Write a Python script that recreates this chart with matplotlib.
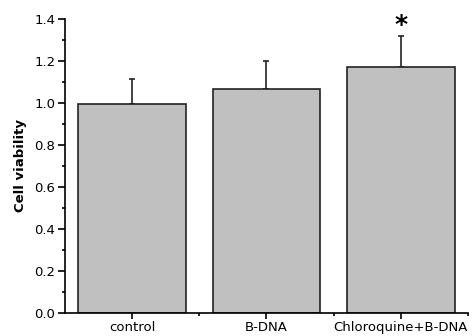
import matplotlib
matplotlib.use("Agg")
import matplotlib.pyplot as plt
from matplotlib.ticker import MultipleLocator, FixedLocator

categories = ["control", "B-DNA", "Chloroquine+B-DNA"]
values = [0.995, 1.067, 1.173]
errors = [0.12, 0.133, 0.147]
star_index = 2

plt.rcParams['font.family'] = ['DejaVu Sans']

fig = plt.figure(figsize=(4.73, 3.36), dpi=100)
ax = fig.add_axes([0.1374, 0.0685, 0.8520, 0.875])

x = list(range(len(categories)))
ax.bar(x, values, width=0.8, color="#c0c0c0", edgecolor="#222222", linewidth=1.2, zorder=2)
ax.errorbar(x, values, yerr=[[0]*len(values), errors], fmt="none", ecolor="#222222",
            elinewidth=1.2, capsize=2, capthick=1.2, zorder=1)
ax.text(x[star_index], values[star_index] + errors[star_index] + 0.05, "*",
        ha="center", va="center", fontsize=18, fontweight="bold")

ax.set_xlim(-0.5, 2.5)
ax.set_ylim(0, 1.4)
ax.set_xticks(x)
ax.set_xticklabels(categories)
ax.xaxis.set_minor_locator(FixedLocator([0.5, 1.5, 2.5]))
ax.yaxis.set_major_locator(MultipleLocator(0.2))
ax.yaxis.set_minor_locator(MultipleLocator(0.1))
ax.yaxis.set_major_formatter(matplotlib.ticker.FormatStrFormatter("%.1f"))
ax.tick_params(axis="x", which="major", direction="out", length=4, width=1.2, labelsize=9.5, pad=1.5)
ax.tick_params(axis="y", which="major", direction="out", length=5, width=1.2, labelsize=9.5, pad=2)
ax.tick_params(axis="both", which="minor", direction="out", length=2.5, width=1.2)
for s in ["top", "right"]:
    ax.spines[s].set_visible(False)
for s in ["left", "bottom"]:
    ax.spines[s].set_linewidth(1.2)
ax.set_ylabel("Cell viability", fontsize=9.5, fontweight="bold", labelpad=5)

fig.savefig("out.png", dpi=100)
